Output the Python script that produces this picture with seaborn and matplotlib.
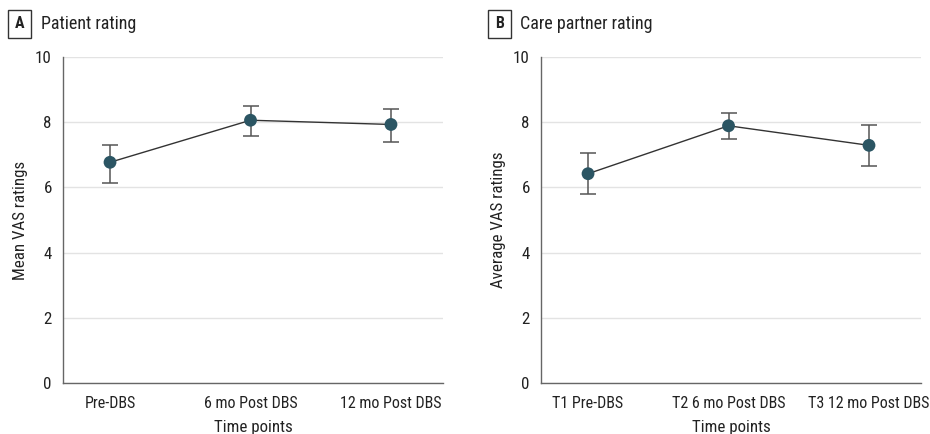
import matplotlib
matplotlib.use("Agg")
import matplotlib.pyplot as plt
import seaborn as sns
import pandas as pd
from matplotlib import font_manager

# ── Data ──────────────────────────────────────────────────────────────────────
patient_times = ["Pre-DBS", "6 mo Post DBS", "12 mo Post DBS"]
patient_mean  = [6.77, 8.06, 7.93]
patient_lower = [6.12, 7.58, 7.40]
patient_upper = [7.30, 8.49, 8.40]

partner_times = ["T1 Pre-DBS", "T2 6 mo Post DBS", "T3 12 mo Post DBS"]
partner_mean  = [6.42, 7.89, 7.29]
partner_lower = [5.79, 7.49, 6.67]
partner_upper = [7.04, 8.27, 7.90]

y_ticks = [0, 2, 4, 6, 8, 10]

# ── Style ─────────────────────────────────────────────────────────────────────
sns.set_style("white")
installed = {f.name for f in font_manager.fontManager.ttflist}
fams = [f for f in ["Roboto Condensed", "Liberation Sans Narrow", "Open Sans", "DejaVu Sans"] if f in installed]
plt.rcParams["font.family"] = fams

MARKER = "#2b5563"
LINE   = "#333333"
ERR    = "#555555"
SPINE  = "#666666"
GRID   = "#e3e3e3"
TXT    = "#222222"
FS     = 12.2
FS_X   = 11.5

fig = plt.figure(figsize=(9.3, 4.34), dpi=100)
axA = fig.add_axes([0.0677, 0.1175, 0.4086, 0.7512])
axB = fig.add_axes([0.5817, 0.1175, 0.4086, 0.7512])


def draw(ax, times, mean, lower, upper, ylabel):
    df = pd.DataFrame({"time": times, "value": mean})
    sns.pointplot(data=df, x="time", y="value", order=times, errorbar=None,
                  color=LINE, markers="o", markersize=0, linewidth=1.0, ax=ax, zorder=3)
    yerr = [[m - l for m, l in zip(mean, lower)], [u - m for m, u in zip(mean, upper)]]
    ax.errorbar(range(len(times)), mean, yerr=yerr, fmt="none", ecolor=ERR,
                elinewidth=1.1, capsize=6, capthick=1.1, zorder=2)
    sns.scatterplot(x=list(range(len(times))), y=mean, color=MARKER, s=85,
                    edgecolor="none", ax=ax, zorder=4)
    ax.set_xlim(-0.335, 2.37)
    ax.set_ylim(0, 10)
    ax.set_yticks(y_ticks)
    ax.set_xticks(range(len(times)))
    ax.set_xticklabels(times)
    ax.yaxis.grid(True, color=GRID, lw=1.0)
    ax.set_axisbelow(True)
    sns.despine(ax=ax)
    for s in ["left", "bottom"]:
        ax.spines[s].set_color(SPINE)
        ax.spines[s].set_linewidth(1.0)
    ax.tick_params(axis="both", direction="out", length=5, width=1.0, color=SPINE,
                   labelsize=FS, labelcolor=TXT, pad=3)
    ax.tick_params(axis="x", labelsize=FS_X, pad=4)
    ax.set_xlabel("Time points", fontsize=FS, color=TXT, labelpad=7)
    ax.set_ylabel(ylabel, fontsize=FS, color=TXT, labelpad=5)


draw(axA, patient_times, patient_mean, patient_lower, patient_upper, "Mean VAS ratings")
draw(axB, partner_times, partner_mean, partner_lower, partner_upper, "Average VAS ratings")

# panel labels
for x_box, letter, x_txt, title in [(0.0210, "A", 0.0441, "Patient rating"),
                                    (0.5370, "B", 0.5592, "Care partner rating")]:
    fig.text(x_box, 0.945, letter, fontsize=11.5, fontweight="bold", ha="center", va="center",
             color=TXT,
             bbox=dict(boxstyle="square,pad=0.42", fc="white", ec="#333333", lw=1.0))
    fig.text(x_txt, 0.945, title, fontsize=13, ha="left", va="center", color=TXT)

fig.savefig("out.png", dpi=100)
